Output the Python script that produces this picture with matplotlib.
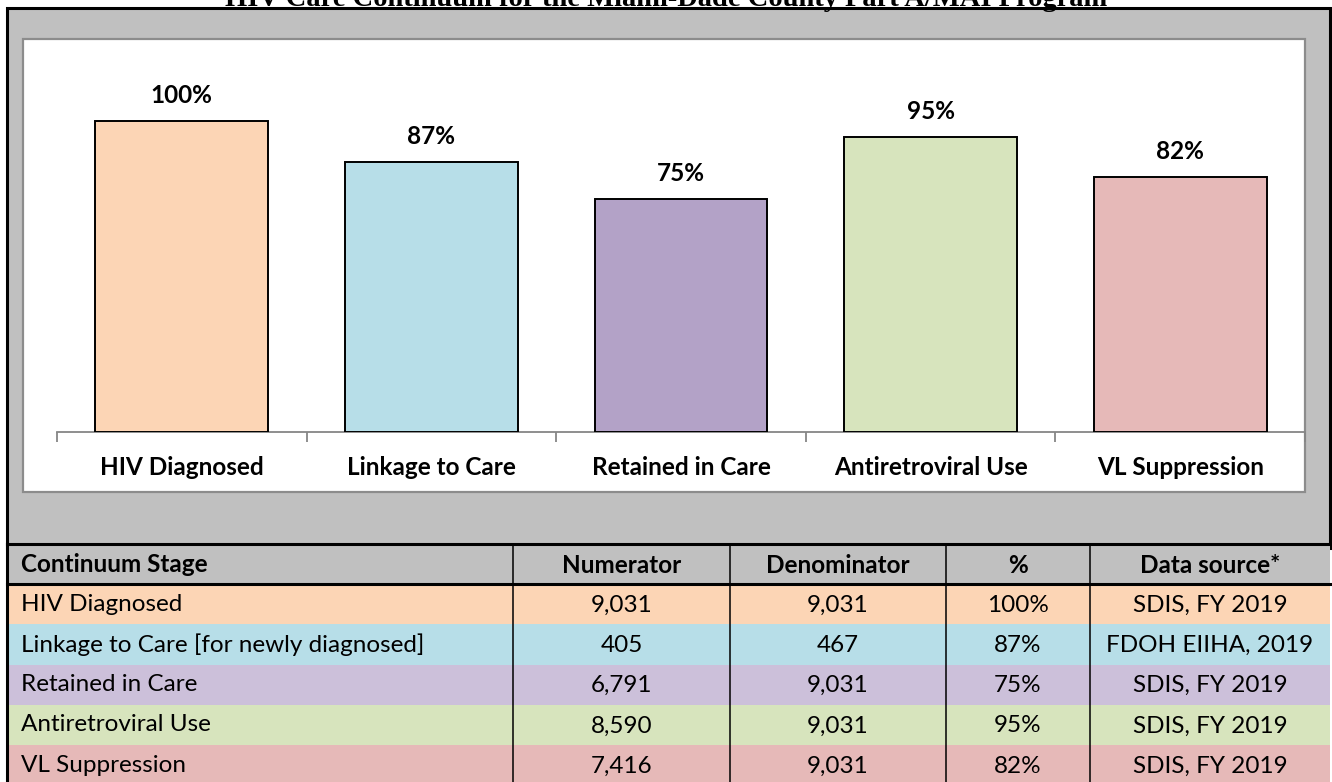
import matplotlib
matplotlib.use("Agg")
import matplotlib.pyplot as plt
from matplotlib.patches import Rectangle

# ---------------- data ----------------
categories = ["HIV Diagnosed", "Linkage to Care", "Retained in Care",
              "Antiretroviral Use", "VL Suppression"]
percent_values = [100, 87, 75, 95, 82]
bar_colors = ["#FCD5B5", "#B7DEE8", "#B3A2C7", "#D7E4BD", "#E6B9B8"]
row_colors = ["#FCD5B5", "#B7DEE8", "#CCC0DA", "#D7E4BD", "#E6B9B8"]

table_header = ["Continuum Stage", "Numerator", "Denominator", "%", "Data source*"]
table_stages = ["HIV Diagnosed", "Linkage to Care [for newly diagnosed]",
                "Retained in Care", "Antiretroviral Use", "VL Suppression"]
numerators = ["9,031", "405", "6,791", "8,590", "7,416"]
denominators = ["9,031", "467", "9,031", "9,031", "9,031"]
pct_labels = ["100%", "87%", "75%", "95%", "82%"]
sources = ["SDIS, FY 2019", "FDOH EIIHA, 2019", "SDIS, FY 2019",
           "SDIS, FY 2019", "SDIS, FY 2019"]

title = "HIV Care Continuum for the Miami-Dade County Part A/MAI Program"

FONT = ["Lato", "DejaVu Sans"]
W, H = 1332, 782
fig = plt.figure(figsize=(W / 100, H / 100), dpi=100)

# background axes in pixel coordinates
bg = fig.add_axes([0, 0, 1, 1])
bg.set_xlim(0, W)
bg.set_ylim(H, 0)
bg.axis("off")

# outer gray box
bg.add_patch(Rectangle((7, 8), 1323, 540, facecolor="#C0C0C0",
                       edgecolor="black", lw=2.2, zorder=0))
# white chart panel
bg.add_patch(Rectangle((23, 39), 1282, 453, facecolor="white",
                       edgecolor="#8C8C8C", lw=1.6, zorder=1))

# title (partially cut at the top)
fig.text(0.5, 1 - 6 / H, title, ha="center", va="baseline",
         family="Liberation Serif", fontweight="bold", fontsize=20.5)

# ---------------- bar chart ----------------
x0, x1, ybase, ytop = 57, 1305, 432, 59
ax = fig.add_axes([x0 / W, 1 - ybase / H, (x1 - x0) / W, (ybase - ytop) / H])
ax.set_facecolor("none")
xs = list(range(len(categories)))
bars = ax.bar(xs, percent_values, width=0.693, color=bar_colors,
              edgecolor="black", linewidth=1.4, zorder=3)
ax.set_xlim(-0.5, len(categories) - 0.5)
ax.set_ylim(0, 120)
ax.set_yticks([])
for s in ["top", "right", "left"]:
    ax.spines[s].set_visible(False)
ax.spines["bottom"].set_color("#868686")
ax.spines["bottom"].set_linewidth(1.3)
ax.set_xticks(xs)
ax.set_xticklabels(categories, fontweight="bold", fontsize=17.5, family=FONT)
ax.tick_params(axis="x", which="major", length=0, pad=17)
ax.set_xticks([i - 0.5 for i in range(len(categories) + 1)], minor=True)
ax.tick_params(axis="x", which="minor", length=7, width=1.3, color="#868686")

for b, lab in zip(bars, pct_labels):
    ax.annotate(lab, (b.get_x() + b.get_width() / 2, b.get_height()),
                xytext=(0, 10), textcoords="offset points", ha="center",
                va="bottom", fontweight="bold", fontsize=17.5, family=FONT)

# ---------------- table ----------------
col_edges = [7, 513, 730, 946, 1090, 1330]
row_h = 40.2
t_top = 544
cells = [table_header] + [[a, b, c, d, e] for a, b, c, d, e in
                          zip(table_stages, numerators, denominators, pct_labels, sources)]
fills = ["#C0C0C0"] + row_colors
for r, row in enumerate(cells):
    y = t_top + r * row_h
    for c, txt in enumerate(row):
        xa, xb = col_edges[c], col_edges[c + 1]
        bg.add_patch(Rectangle((xa, y), xb - xa, row_h, facecolor=fills[r],
                               edgecolor="none", zorder=2))
        wt = "bold" if r == 0 else "normal"
        if c == 0:
            bg.text(xa + 14, y + row_h / 2, txt, ha="left", va="center",
                    fontsize=17.5, family=FONT, fontweight=wt, zorder=5)
        else:
            bg.text((xa + xb) / 2, y + row_h / 2 + 1, txt, ha="center", va="center",
                    fontsize=17.5, family=FONT, fontweight=wt, zorder=5)

t_bot = t_top + len(cells) * row_h
# vertical lines
for xe in col_edges[1:-1]:
    bg.plot([xe, xe], [t_top, t_bot], color="black", lw=1.1, zorder=4)
bg.plot([7, 7], [t_top, t_bot], color="black", lw=2.2, zorder=4)
# header lines
bg.plot([7, 1330], [t_top, t_top], color="black", lw=2.2, zorder=4)
bg.plot([7, 1330], [t_top + row_h, t_top + row_h], color="black", lw=2.2, zorder=4)

fig.savefig("out.png", dpi=100)
